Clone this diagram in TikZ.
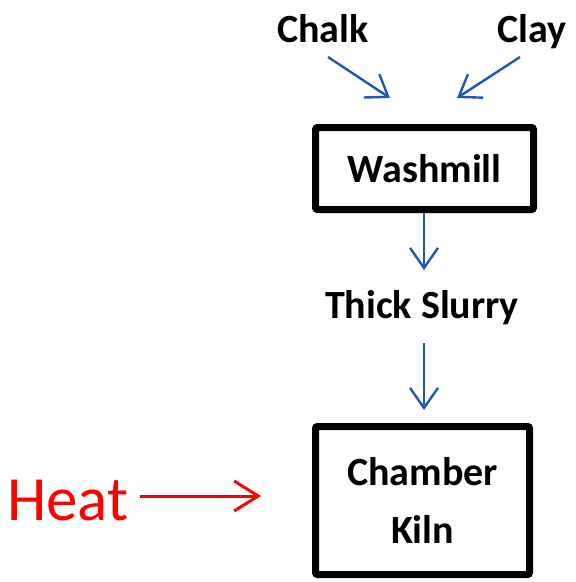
\documentclass[tikz,border=0pt]{standalone}
\usepackage{fontspec}
\setmainfont{Carlito}
\usetikzlibrary{arrows.meta}
\definecolor{flowblue}{RGB}{32,86,184}
\begin{document}
\begin{tikzpicture}[x=1pt,y=-1pt,
  lbl/.style={font=\fontsize{40}{48}\selectfont\bfseries, inner sep=0pt, anchor=base},
  boxnode/.style={draw=black, line width=7pt, rounded corners=2pt, inner sep=0pt,
    align=center, font=\fontsize{40}{58}\selectfont\bfseries},
  flow/.style={draw=flowblue, line width=2.4pt, -{Straight Barb[length=20pt,width=28pt,line width=2.4pt]}},
  heatflow/.style={draw=red, line width=3pt, -{Straight Barb[length=24pt,width=30pt,line width=3pt]}}]
\useasboundingbox (0,0) rectangle (576,582);
\node[lbl] (chalk) at (323,42) {Chalk};
\node[lbl] (clay) at (532,42) {Clay};
\node[boxnode, minimum width=218pt, minimum height=82pt] (wash) at (424.5,168.5) {Washmill};
\node[lbl] (slurry) at (422,318) {Thick Slurry};
\node[boxnode, minimum width=214pt, minimum height=148pt] (kiln) at (422.5,500.5) {Chamber\\Kiln};
\node[lbl, text=red, font=\fontsize{63}{70}\selectfont] (heat) at (68,520) {Heat};
\coordinate (chalkstart) at (328,57);
\coordinate (chalkend) at (390,98);
\coordinate (claystart) at (520,57);
\coordinate (clayend) at (457,98);
\coordinate (washend) at (424,270);
\coordinate (slurrystart) at (424,343);
\coordinate (slurryend) at (424,410);
\coordinate (heatstart) at (140,496);
\coordinate (heatend) at (261,496);
\draw[flow] (chalkstart) -- (chalkend);
\draw[flow] (claystart) -- (clayend);
\draw[flow] (wash.south -| washend) -- (washend);
\draw[flow] (slurrystart) -- (slurryend);
\draw[heatflow] (heatstart) -- (heatend);
\end{tikzpicture}
\end{document}
